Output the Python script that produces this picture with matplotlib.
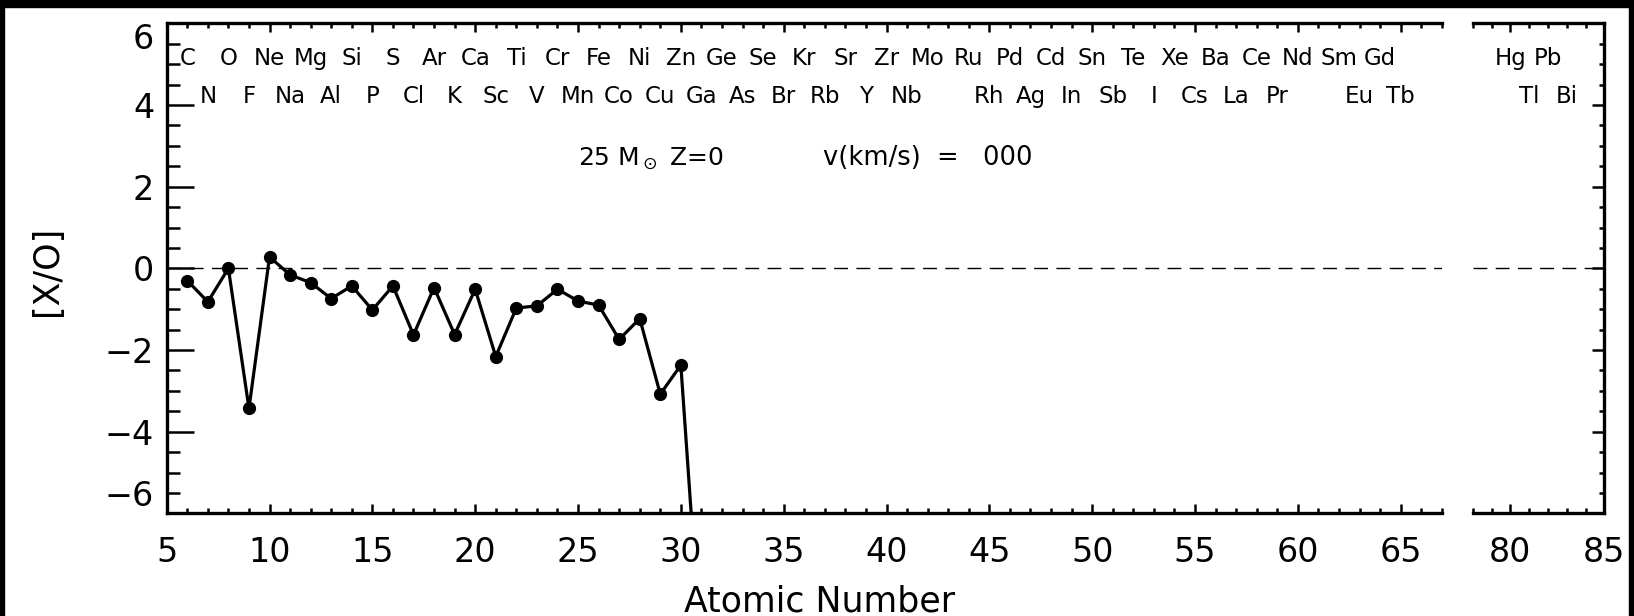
import numpy as np
import matplotlib.pyplot as plt
from matplotlib.ticker import MultipleLocator, FixedLocator
from matplotlib.patches import Rectangle

# [X/O] vs atomic number, 25 Msun Z=0 model
z = np.arange(6, 32)
xo = [-0.30, -0.82, 0.00, -3.43, 0.28, -0.16, -0.35, -0.74, -0.43, -1.02,
      -0.43, -1.63, -0.47, -1.62, -0.51, -2.16, -0.97, -0.92, -0.51, -0.80,
      -0.90, -1.74, -1.23, -3.08, -2.37, -9.60]

# element labels along the top
sym = ['C', 'N', 'O', 'F', 'Ne', 'Na', 'Mg', 'Al', 'Si', 'P', 'S', 'Cl', 'Ar', 'K',
       'Ca', 'Sc', 'Ti', 'V', 'Cr', 'Mn', 'Fe', 'Co', 'Ni', 'Cu', 'Zn', 'Ga', 'Ge',
       'As', 'Se', 'Br', 'Kr', 'Rb', 'Sr', 'Y', 'Zr', 'Nb', 'Mo', 'Ru', 'Rh', 'Pd',
       'Ag', 'Cd', 'In', 'Sn', 'Sb', 'Te', 'I', 'Xe', 'Cs', 'Ba', 'La', 'Ce', 'Pr',
       'Nd', 'Sm', 'Eu', 'Gd', 'Tb', 'Hg', 'Tl', 'Pb', 'Bi']
sym_z = list(range(6, 43)) + list(range(44, 61)) + [62, 63, 64, 65, 80, 81, 82, 83]

W, H = 1634, 616
fig = plt.figure(figsize=(W / 100, H / 100), dpi=100)
plt.rcParams['font.family'] = ['DejaVu Sans']

def box(x0, x1, y0, y1):
    return [x0 / W, 1 - y1 / H, (x1 - x0) / W, (y1 - y0) / H]

ax1 = fig.add_axes(box(166.7, 1441.8, 23.3, 513.4))
ax2 = fig.add_axes(box(1472.7, 1604.3, 23.3, 513.4))

lw_ax = 2.4
for ax in (ax1, ax2):
    ax.set_ylim(-6, 6)
    for s in ax.spines.values():
        s.set_linewidth(lw_ax)
    ax.axhline(0, color='k', lw=1.0, dashes=(10, 6), zorder=1)
    ax.yaxis.set_major_locator(FixedLocator([-6, -4, -2, 0, 2, 4, 6]))
    ax.yaxis.set_minor_locator(MultipleLocator(0.5))
    ax.xaxis.set_minor_locator(MultipleLocator(1))
    ax.tick_params(axis='x', which='both', direction='in', top=True, width=1.8,
                   labelsize=24, pad=16)
    ax.tick_params(axis='x', which='major', length=6.5)
    ax.tick_params(axis='x', which='minor', length=3.6)

ax1.set_xlim(5, 67)
ax1.xaxis.set_major_locator(MultipleLocator(5))
ax1.spines['right'].set_visible(False)
ax1.tick_params(axis='y', which='both', direction='in', left=True, right=False,
                width=1.8, labelsize=24, pad=9)
ax1.tick_params(axis='y', which='major', length=19.5)
ax1.tick_params(axis='y', which='minor', length=9.5)
# keep the end labels inside the y range
yt = ax1.yaxis.get_major_ticks()
yt[0].label1.set_va('bottom')
yt[-1].label1.set_va('top')

ax2.set_xlim(78, 85)
ax2.xaxis.set_major_locator(FixedLocator([80, 85]))
ax2.spines['left'].set_visible(False)
ax2.tick_params(axis='y', which='both', direction='in', left=False, right=True,
                labelleft=False, width=1.8)
ax2.tick_params(axis='y', which='major', length=8.6)
ax2.tick_params(axis='y', which='minor', length=3.6)

ax1.plot(z, xo, color='k', lw=2.3, marker='o', ms=8.5, zorder=3)

for s, n in zip(sym, sym_z):
    ax = ax1 if n < 67 else ax2
    yy = 5.14 if n % 2 == 0 else 4.20
    ax.text(n, yy, s, ha='center', va='center', fontsize=16.5)

ax1.text(25.0, 2.69, r'25 M$_\odot$ Z=0', ha='left', va='center', fontsize=18)
ax1.text(36.9, 2.69, 'v(km/s)  =   000', ha='left', va='center', fontsize=18.5)

fig.text(820 / W, 1 - 601 / H, 'Atomic Number', ha='center', va='center', fontsize=25)
fig.text(47 / W, 1 - 271 / H, '[X/O]', ha='center', va='center', rotation=90,
         fontsize=25)

# dark frame at the image edges
for r in [(0, 1 - 7 / H, 1, 7 / H), (0, 0, 4 / W, 1), (1 - 5 / W, 0, 5 / W, 1)]:
    fig.patches.append(Rectangle(r[:2], r[2], r[3], transform=fig.transFigure,
                                 color='k', zorder=10))

fig.savefig('out.png', dpi=100)
